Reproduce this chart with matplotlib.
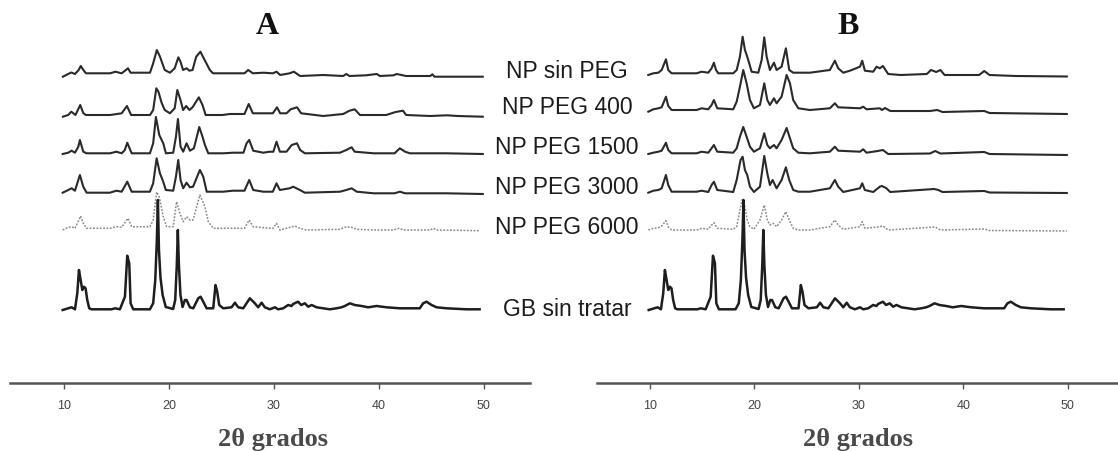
import matplotlib
matplotlib.use('Agg')
import matplotlib.pyplot as plt
import numpy as np

# ------------ Data (2theta, intensity a.u.) ---------------
# panel A
sin_peg_a = [(9.9, 0.3), (10.4, 3), (10.7, 4.5), (11.05, 3), (11.4, 7), (11.6, 11), (11.85, 7), (12.1, 3.7),
             (14.4, 3.7), (14.9, 5.3), (15.5, 3.7), (15.9, 7), (16.1, 8.7), (16.35, 4.3), (18.2, 4.3), (18.5, 13.7),
             (18.85, 27), (19.15, 20.3), (19.6, 7), (20.1, 4.3), (20.55, 8.7), (20.9, 19.7), (21.1, 15.3), (21.35, 7),
             (21.7, 8.7), (21.95, 6.3), (22.25, 7), (22.6, 20.3), (23.0, 25.3), (23.4, 17), (23.9, 7), (24.2, 3.7),
             (25.5, 3.7), (27.2, 3.7), (27.55, 7), (28.0, 3.7), (29.0, 4.3), (29.9, 3.7), (30.25, 5.3), (30.6, 2),
             (31.5, 3.7), (31.9, 5.3), (32.5, 1), (34.7, 2), (36.6, 1), (36.9, 3), (37.2, 1), (38.8, 1.7),
             (39.8, 3), (40.1, 1), (41.4, 1.7), (41.7, 3), (42.6, 1), (44.9, 1), (45.1, 2.7), (45.3, 0.3),
             (49.9, 0.3)]
peg400_a = [(9.9, 0.3), (10.4, 2), (10.7, 5.3), (11.1, 2), (11.55, 12), (11.85, 3.7), (12.1, 2), (14.4, 2),
            (15.5, 3.7), (16.0, 11), (16.4, 2), (18.2, 2), (18.5, 7), (18.8, 28.7), (19.0, 25.3), (19.3, 14.3),
            (19.6, 7), (20.1, 3.7), (20.55, 8.7), (20.8, 27), (21.1, 17), (21.35, 7), (21.65, 11), (21.95, 7),
            (22.25, 9.7), (22.85, 19.7), (23.2, 12), (23.5, 2), (25.1, 2), (25.8, 3), (27.2, 3), (27.6, 13),
            (28.0, 3.7), (29.9, 3.7), (30.3, 9.7), (30.6, 3.7), (31.2, 3.7), (31.6, 7.7), (32.2, 9.7),
            (32.6, 3.7), (34.7, 1), (36.6, 3), (37.2, 6.3), (37.7, 7.7), (38.2, 2), (40.7, 2), (41.6, 5),
            (42.3, 6.3), (42.6, 2), (44.9, 1), (46.5, 1.7), (47.5, 1), (49.9, 0.3)]
peg1500_a = [(9.88, 0), (10.41, 1.3), (10.73, 3.3), (11.05, 1.3), (11.37, 7.3), (11.52, 14), (11.84, 2.3),
             (12.16, 0.7), (14.38, 0.7), (15.0, 2.3), (15.5, 0.7), (15.8, 4), (16.03, 11.3), (16.45, 0.7),
             (18.19, 0.7), (18.5, 10.7), (18.76, 37), (19.08, 19), (19.46, 10.7), (19.71, 0.7), (20.41, 1.3),
             (20.67, 17.3), (20.86, 35), (21.11, 7.3), (21.36, 2.3), (21.68, 10.7), (22.0, 3.3), (22.38, 5.7),
             (22.89, 27), (23.2, 17.3), (23.43, 9), (23.75, 0.7), (25.17, 0.7), (26.12, 1.3), (27.1, 1.3),
             (27.4, 10.7), (27.65, 14), (28.03, 3.3), (28.98, 1.3), (29.6, 2.3), (29.95, 2.3), (30.25, 12.3),
             (30.57, 2.3), (31.2, 2.3), (31.7, 9), (32.2, 10.7), (32.5, 4), (32.95, 0.7), (36.3, 1.3), (36.9, 4),
             (37.4, 6.7), (37.7, 2.3), (39.5, 0.7), (41.5, 0.7), (42.0, 5.7), (42.5, 2.3), (42.95, 0.7),
             (46.4, 0.7), (49.9, 0)]
peg3000_a = [(9.88, 1.3), (10.41, 4), (10.73, 5.7), (11.05, 3.3), (11.52, 19), (11.84, 7.3), (12.16, 1.3),
             (14.38, 1.3), (15.0, 3.3), (15.5, 2.3), (16.03, 12.3), (16.45, 2.3), (18.19, 2.3), (18.5, 10.7),
             (18.83, 35.7), (19.14, 20.7), (19.4, 14), (19.71, 4), (20.41, 3.3), (20.67, 17.3), (20.89, 34),
             (21.11, 14), (21.36, 5.7), (21.68, 11.3), (22.0, 6.7), (22.3, 7.3), (22.95, 24), (23.27, 17.3),
             (23.6, 2.3), (25.17, 2.3), (26.1, 3.3), (27.2, 3.3), (27.65, 14), (28.03, 4), (28.98, 2.3),
             (29.9, 2.3), (30.25, 10.7), (30.57, 4), (31.5, 5.7), (31.84, 7.3), (32.48, 4), (32.95, 1.3),
             (36.3, 2.3), (36.9, 4), (37.4, 5.7), (37.9, 2.3), (39.5, 0.7), (41.5, 0.7), (42.0, 2.3), (42.5, 0.7),
             (46.4, 0.7), (49.9, 0)]
peg6000_a = [(9.88, 1), (10.41, 3.7), (10.73, 4.3), (11.05, 2.7), (11.59, 15), (11.84, 7.7), (12.16, 2.7),
             (14.38, 2.7), (15.0, 4.3), (15.5, 3.7), (16.1, 12.7), (16.45, 4.3), (18.19, 4.3), (18.5, 11),
             (18.83, 39), (19.08, 34.3), (19.46, 14.3), (19.78, 4.3), (20.41, 4.3), (20.73, 29.3), (21.05, 17.7),
             (21.36, 9.3), (21.68, 14.3), (22.0, 11), (22.3, 11), (22.95, 36), (23.43, 24.3), (23.75, 9.3),
             (24.22, 2.7), (25.17, 2.7), (27.2, 2.7), (27.65, 11), (28.03, 4.3), (29.9, 2.5), (30.25, 7.7),
             (30.57, 1), (31.52, 3.7), (32.0, 5), (32.48, 2.7), (33.1, 1), (36.3, 1.7), (36.9, 4.3), (37.4, 3.7),
             (37.9, 1.7), (39.5, 1), (41.4, 1), (41.9, 2.7), (42.35, 1), (44.9, 1), (45.2, 2.7), (45.5, 1),
             (49.6, 0.3)]

# panel B
sin_peg_b = [(9.84, 2), (10.32, 3.7), (10.8, 4.3), (11.12, 7), (11.53, 17.7), (11.75, 7), (12.07, 3.7),
             (14.47, 3.7), (14.95, 5.3), (15.58, 4.3), (15.9, 8.7), (16.12, 14.3), (16.32, 7), (16.54, 3.7),
             (17.97, 3.7), (18.3, 7), (18.61, 20.3), (18.87, 40.3), (19.09, 27), (19.31, 20.3), (19.5, 13.7),
             (19.73, 5.3), (20.37, 4.3), (20.69, 17), (20.94, 39.7), (21.17, 20.3), (21.48, 7), (21.87, 14.3),
             (22.12, 7), (22.6, 10.3), (23.01, 28.7), (23.33, 7), (23.71, 4.3), (25.31, 4.3), (27.22, 7),
             (27.7, 16.3), (28.02, 8.7), (28.5, 4.3), (29.14, 6.3), (30.1, 10.3), (30.32, 16.3), (30.57, 6.3),
             (31.37, 5.3), (31.69, 10.3), (32.0, 8.7), (32.3, 11), (32.8, 3), (34.0, 2), (36.5, 3), (36.9, 7),
             (37.4, 5), (37.8, 7), (38.2, 2), (41.5, 2), (42.0, 6), (42.5, 2), (45.0, 1), (49.9, 0.5)]
peg400_b = [(9.84, 2.3), (10.32, 4.7), (10.8, 5.7), (11.12, 6.7), (11.53, 17.3), (11.75, 8), (12.07, 4),
            (14.47, 4), (14.95, 5.7), (15.58, 4.7), (15.9, 9), (16.12, 14), (16.44, 5.7), (17.97, 4.7),
            (18.3, 12.3), (18.61, 27.3), (18.93, 44), (19.25, 30.7), (19.57, 14), (19.95, 5.7), (20.53, 9),
            (20.94, 30.7), (21.23, 14), (21.48, 9), (21.87, 15.7), (22.12, 10.7), (22.6, 17.3), (23.08, 39),
            (23.4, 30.7), (23.71, 14), (24.2, 5.7), (25.31, 4), (27.22, 5.7), (27.7, 10.7), (28.02, 6.7),
            (30.1, 5.7), (30.41, 7.3), (30.73, 4.7), (32.0, 5.7), (32.2, 4), (32.5, 6), (33.0, 3), (36.8, 3),
            (37.5, 4), (38.0, 2), (42.0, 3), (42.5, 1), (49.9, 0)]
peg1500_b = [(9.84, 1), (10.32, 2.3), (10.8, 3.3), (11.12, 4.3), (11.53, 12.3), (11.75, 5), (12.07, 1.7),
             (14.47, 1.7), (14.95, 3.3), (15.58, 2.3), (15.9, 6.7), (16.12, 10), (16.44, 3.3), (17.97, 2.3),
             (18.3, 6.7), (18.61, 18.3), (18.93, 28), (19.25, 18.3), (19.57, 8.3), (19.95, 3.3), (20.53, 6.7),
             (20.94, 21.7), (21.23, 10), (21.48, 6.7), (21.87, 10), (22.12, 6.7), (22.6, 15), (23.08, 27),
             (23.4, 16.7), (23.71, 6.7), (24.2, 2.3), (25.31, 1.7), (27.22, 3.3), (27.7, 8.3), (28.02, 4.3),
             (30.1, 3.3), (30.41, 5.7), (30.73, 2.3), (31.8, 4), (32.3, 5), (32.8, 1), (36.8, 1.5), (37.3, 4),
             (37.8, 1.5), (42.0, 3), (42.5, 1), (49.9, 0)]
peg3000_b = [(9.84, 0.3), (10.32, 2.3), (10.8, 3), (11.12, 4.7), (11.53, 18), (11.75, 8), (12.07, 1.3),
             (14.47, 1.3), (14.95, 2.3), (15.58, 1), (15.9, 8), (16.12, 11.3), (16.44, 3), (17.97, 1),
             (18.3, 13), (18.67, 33), (18.87, 36.3), (19.09, 23), (19.31, 18), (19.57, 6.3), (19.95, 1),
             (20.53, 6.3), (20.94, 37), (21.23, 19.7), (21.48, 8), (21.74, 13), (22.12, 4.7), (22.6, 13),
             (23.01, 25.7), (23.33, 13), (23.71, 3), (24.2, 1.3), (25.31, 1.3), (27.22, 4.7), (27.7, 13),
             (28.02, 6.3), (28.5, 1), (30.1, 4.7), (30.32, 9.7), (30.57, 3), (31.37, 1), (32.0, 6.3), (32.2, 7),
             (32.6, 5), (33.0, 1), (37.2, 4), (37.6, 3), (38.0, 1), (42.0, 2), (42.5, 0.5), (49.9, 0)]
peg6000_b = [(9.84, 1), (10.32, 2.7), (10.8, 3.3), (11.12, 5), (11.53, 10.3), (11.75, 4.3), (12.07, 1),
             (14.47, 1), (14.95, 2.7), (15.58, 1.7), (15.9, 6), (16.12, 8.3), (16.44, 2.7), (17.97, 1.7),
             (18.3, 4.3), (18.61, 21), (18.87, 32.7), (19.09, 24.3), (19.31, 11), (19.57, 4.3), (19.95, 1.7),
             (20.53, 11), (20.94, 26), (21.23, 11), (21.48, 6), (21.8, 7.7), (22.12, 4.3), (22.6, 11),
             (23.01, 19.3), (23.33, 11), (23.71, 2.7), (24.2, 1), (25.31, 1), (27.22, 4.3), (27.7, 11),
             (28.02, 6), (28.5, 1.7), (30.1, 4.3), (30.32, 9.3), (30.57, 2.7), (31.8, 4), (32.3, 5), (32.8, 1),
             (37.3, 4), (37.8, 1), (42.0, 2), (42.5, 0.5), (49.9, 0)]

# untreated sample, same in both panels
gb_sin_tratar = [(9.88, 0), (10.41, 1.7), (10.73, 2.7), (11.05, 0.7), (11.27, 16.7), (11.43, 40), (11.59, 30),
                 (11.75, 20), (11.9, 23.3), (12.06, 21.7), (12.22, 10), (12.41, 1.7), (12.63, 0.7), (14.54, 0.7),
                 (14.86, 1.7), (15.33, 0.7), (15.81, 13.3), (16.03, 54.3), (16.22, 46.7), (16.35, 6.7),
                 (16.6, 0.7), (18.19, 0.7), (18.5, 6.7), (18.7, 30), (18.85, 70), (18.95, 110), (19.05, 60),
                 (19.2, 32), (19.4, 15), (19.7, 3), (20.4, 1), (20.6, 10), (20.75, 45), (20.85, 80), (20.95, 45),
                 (21.1, 15), (21.3, 3), (21.52, 10), (21.68, 10), (22.0, 2.7), (22.32, 1.7), (22.79, 11.7),
                 (23.02, 13.3), (23.27, 8.3), (23.59, 1.7), (24.22, 1.7), (24.44, 25), (24.6, 18.3), (24.79, 5),
                 (25.17, 1.7), (25.97, 2.7), (26.29, 7.3), (26.6, 2.7), (27.08, 1.7), (27.71, 11.7), (28.19, 6.7),
                 (28.5, 2.7), (28.83, 7.3), (29.14, 2.7), (29.62, 0.7), (30.1, 2.7), (30.41, 0.7), (30.89, 1.7),
                 (31.36, 5), (31.68, 4), (31.84, 6), (32.3, 8.3), (32.6, 5), (32.95, 6.7), (33.27, 3.3),
                 (33.6, 5), (34.07, 2.7), (35.33, 0.7), (35.97, 1.7), (36.44, 2.7), (36.76, 4), (37.24, 6.7),
                 (37.71, 5), (38.35, 4), (38.98, 2.7), (39.78, 4), (40.73, 2.7), (42.0, 1.7), (43.9, 1.7),
                 (44.22, 6.7), (44.54, 8.3), (45.02, 5), (45.5, 2.7), (46.45, 1.7), (48.35, 0.7), (49.6, 0.7)]

labels = ['NP sin PEG', 'NP PEG 400', 'NP PEG 1500', 'NP PEG 3000', 'NP PEG 6000', 'GB sin tratar']
traces_a = [sin_peg_a, peg400_a, peg1500_a, peg3000_a, peg6000_a, gb_sin_tratar]
traces_b = [sin_peg_b, peg400_b, peg1500_b, peg3000_b, peg6000_b, gb_sin_tratar]
tick_vals = [10, 20, 30, 40, 50]

# ------------ Layout (pixels of a 1118x451 canvas) ---------------
W, H = 1118, 451
AXIS_Y = 383
base_a = [77, 117, 154, 194, 231, 310]   # baseline row of each trace
base_b = [77, 114, 155, 193, 231, 310]
label_y = [71, 107, 148, 188, 227, 310]
label_x = 567


def fx(x):
    return x / W


def fy(y):
    return 1 - y / H


fig = plt.figure(figsize=(W / 100, H / 100), dpi=100)
fig.patch.set_facecolor('white')

panels = [
    ('A', [10, 520], (4.86, 54.4), traces_a, base_a, 267, 273),
    ('B', [597, 521], (4.93, 54.8), traces_b, base_b, 848, 858),
]

for name, (left, width), xlim, traces, bases, title_x, xlabel_x in panels:
    ax = fig.add_axes([fx(left), fy(AXIS_Y), fx(width), AXIS_Y / H])
    ax.set_xlim(*xlim)
    ax.set_ylim(0, AXIS_Y)
    for i, (tr, b) in enumerate(zip(traces, bases)):
        t = np.array(tr)
        off = AXIS_Y - b
        if i == 4:
            ax.plot(t[:, 0], t[:, 1] + off, color='#8a8a8a', lw=1.1, ls=(0, (1.2, 1.0)))
        elif i == 5:
            ax.plot(t[:, 0], t[:, 1] + off, color='#1e1e1e', lw=1.8)
        else:
            ax.plot(t[:, 0], t[:, 1] + off, color='#2a2a2a', lw=1.5)

    for s in ['top', 'left', 'right']:
        ax.spines[s].set_visible(False)
    ax.spines['bottom'].set_color('#555555')
    ax.spines['bottom'].set_linewidth(1.8)
    ax.set_yticks([])
    ax.set_xticks(tick_vals)
    ax.set_xticklabels([str(v) for v in tick_vals])
    ax.tick_params(axis='x', direction='out', length=4, width=1, color='#555555',
                   labelsize=9, labelcolor='#444444', pad=8)
    for lab in ax.get_xticklabels():
        lab.set_family('Liberation Sans')
    ax.patch.set_alpha(0)

    fig.text(fx(title_x), fy(27), name, ha='center', va='center', family='Liberation Serif',
             fontweight='bold', fontsize=23, color='#111111')
    fig.text(fx(xlabel_x), fy(446), '2θ grados', ha='center', va='baseline', family='Liberation Serif',
             fontweight='bold', fontsize=19, color='#4a4a4a')

for lab, y in zip(labels, label_y):
    fig.text(fx(label_x), fy(y), lab, ha='center', va='center', family='Liberation Sans',
             fontsize=16.5, color='#1c1c1c')

fig.savefig('out.png', dpi=100, facecolor='white')
